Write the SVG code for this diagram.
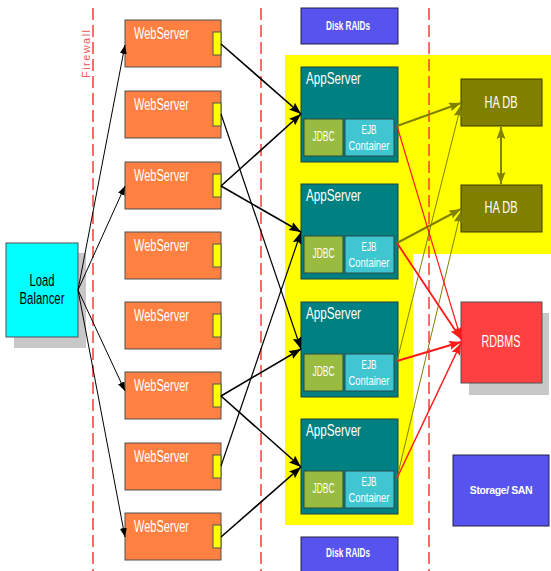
<svg xmlns="http://www.w3.org/2000/svg" width="551" height="571" viewBox="0 0 551 571">
<style>
.t{font-family:"Liberation Sans Narrow","Liberation Sans",Arial,sans-serif;fill:#fff}
.c{text-anchor:middle}
.ws{fill:#FF8040;stroke:#505050;stroke-width:1}
.port{fill:#FFFF00;stroke:#505050;stroke-width:1}
.as{fill:#008080;stroke:#1f4040;stroke-width:1}
.jdbc{fill:#99BB40;stroke:#2a4a40;stroke-width:1}
.ejb{fill:#40C6D0;stroke:#2a4a50;stroke-width:1}
.db{fill:#808000;stroke:#3a3a00;stroke-width:1}
.blue{fill:#5653EE;stroke:#222244;stroke-width:1}
.fw{stroke:#FF3B3B;stroke-width:1.5;stroke-dasharray:12,5;fill:none}
.lb{stroke:#000;stroke-width:1;fill:none;marker-end:url(#aS)}
.wa{stroke:#000;stroke-width:1.6;fill:none;marker-end:url(#aB)}
.ol{stroke:#808000;fill:none;marker-end:url(#aO)}
.rd{stroke:#FF1A1A;fill:none;marker-end:url(#aR)}
</style>
<defs>
<marker id="aS" markerUnits="userSpaceOnUse" markerWidth="10" markerHeight="8" refX="9" refY="3.5" orient="auto"><path d="M0,0 L9,3.5 L0,7 Z" fill="#000"/></marker>
<marker id="aB" markerUnits="userSpaceOnUse" markerWidth="13" markerHeight="10" refX="12" refY="4.5" orient="auto"><path d="M0,0 L12,4.5 L0,9 L2,4.5 Z" fill="#000"/></marker>
<marker id="aO" markerUnits="userSpaceOnUse" markerWidth="13" markerHeight="10" refX="12" refY="4.5" orient="auto"><path d="M0,0 L12,4.5 L0,9 L2,4.5 Z" fill="#808000"/></marker>
<marker id="aOs" markerUnits="userSpaceOnUse" markerWidth="13" markerHeight="10" refX="0" refY="4.5" orient="auto"><path d="M12,0 L0,4.5 L12,9 L10,4.5 Z" fill="#808000"/></marker>
<marker id="aR" markerUnits="userSpaceOnUse" markerWidth="13" markerHeight="10" refX="12" refY="4.5" orient="auto"><path d="M0,0 L12,4.5 L0,9 L2,4.5 Z" fill="#FF1A1A"/></marker>
</defs>
<rect width="551" height="571" fill="#fff"/>
<polygon points="285,55 551,55 551,254 413,254 413,525 285,525" fill="#FFFF00"/>
<g id="firewalls">
<line class="fw" x1="93" y1="8" x2="93" y2="571"/>
<line class="fw" x1="261" y1="8" x2="261" y2="571"/>
<line class="fw" x1="429" y1="8" x2="429" y2="571"/>
<text transform="translate(90,78) rotate(-90)" font-family="Liberation Sans,Arial,sans-serif" font-size="11" fill="#F05A5A" textLength="48" lengthAdjust="spacing">Firewall</text>
</g>
<g id="loadbalancer">
<rect x="14" y="253" width="72" height="95" fill="#C8C8C8"/>
<rect x="6" y="243" width="72" height="94" fill="#00FFFF" stroke="#505050"/>
<text class="t c" x="42" y="286" font-size="16" style="fill:#000" textLength="25" lengthAdjust="spacingAndGlyphs">Load</text>
<text class="t c" x="42" y="304" font-size="16" style="fill:#000" textLength="45" lengthAdjust="spacingAndGlyphs">Balancer</text>
</g>
<g id="ws1"><rect class="ws" x="125" y="20" width="96" height="47"/><rect class="port" x="213" y="32" width="8" height="23"/><text class="t" x="134" y="39" font-size="16" textLength="55" lengthAdjust="spacingAndGlyphs">WebServer</text></g>
<g id="ws2"><rect class="ws" x="125" y="91" width="96" height="47"/><rect class="port" x="213" y="103" width="8" height="23"/><text class="t" x="134" y="110" font-size="16" textLength="55" lengthAdjust="spacingAndGlyphs">WebServer</text></g>
<g id="ws3"><rect class="ws" x="125" y="162" width="96" height="47"/><rect class="port" x="213" y="174" width="8" height="23"/><text class="t" x="134" y="181" font-size="16" textLength="55" lengthAdjust="spacingAndGlyphs">WebServer</text></g>
<g id="ws4"><rect class="ws" x="125" y="232" width="96" height="47"/><rect class="port" x="213" y="244" width="8" height="23"/><text class="t" x="134" y="251" font-size="16" textLength="55" lengthAdjust="spacingAndGlyphs">WebServer</text></g>
<g id="ws5"><rect class="ws" x="125" y="302" width="96" height="47"/><rect class="port" x="213" y="314" width="8" height="23"/><text class="t" x="134" y="321" font-size="16" textLength="55" lengthAdjust="spacingAndGlyphs">WebServer</text></g>
<g id="ws6"><rect class="ws" x="125" y="372" width="96" height="47"/><rect class="port" x="213" y="384" width="8" height="23"/><text class="t" x="134" y="391" font-size="16" textLength="55" lengthAdjust="spacingAndGlyphs">WebServer</text></g>
<g id="ws7"><rect class="ws" x="125" y="443" width="96" height="47"/><rect class="port" x="213" y="455" width="8" height="23"/><text class="t" x="134" y="462" font-size="16" textLength="55" lengthAdjust="spacingAndGlyphs">WebServer</text></g>
<g id="ws8"><rect class="ws" x="125" y="513" width="96" height="47"/><rect class="port" x="213" y="525" width="8" height="23"/><text class="t" x="134" y="532" font-size="16" textLength="55" lengthAdjust="spacingAndGlyphs">WebServer</text></g>
<g id="raid1"><rect class="blue" x="301" y="8" width="97" height="36"/><text class="t c" x="348" y="30" font-size="13" font-weight="bold" textLength="44" lengthAdjust="spacingAndGlyphs">Disk RAIDs</text></g>
<g id="raid2"><rect class="blue" x="301" y="537" width="97" height="40"/><text class="t c" x="348" y="557" font-size="13" font-weight="bold" textLength="44" lengthAdjust="spacingAndGlyphs">Disk RAIDs</text></g>
<g id="as1"><rect class="as" x="301" y="67" width="97" height="95"/><text class="t" x="306" y="84" font-size="16" textLength="55" lengthAdjust="spacingAndGlyphs">AppServer</text><rect class="jdbc" x="304" y="119" width="39" height="37"/><text class="t c" x="323.5" y="141" font-size="14" textLength="22" lengthAdjust="spacingAndGlyphs">JDBC</text><rect class="ejb" x="345" y="119" width="49" height="37"/><text class="t c" x="369" y="134" font-size="13" textLength="15" lengthAdjust="spacingAndGlyphs">EJB</text><text class="t c" x="369" y="150" font-size="13" textLength="41" lengthAdjust="spacingAndGlyphs">Container</text></g>
<g id="as2"><rect class="as" x="301" y="184" width="97" height="95"/><text class="t" x="306" y="201" font-size="16" textLength="55" lengthAdjust="spacingAndGlyphs">AppServer</text><rect class="jdbc" x="304" y="236" width="39" height="37"/><text class="t c" x="323.5" y="258" font-size="14" textLength="22" lengthAdjust="spacingAndGlyphs">JDBC</text><rect class="ejb" x="345" y="236" width="49" height="37"/><text class="t c" x="369" y="251" font-size="13" textLength="15" lengthAdjust="spacingAndGlyphs">EJB</text><text class="t c" x="369" y="267" font-size="13" textLength="41" lengthAdjust="spacingAndGlyphs">Container</text></g>
<g id="as3"><rect class="as" x="301" y="302" width="97" height="95"/><text class="t" x="306" y="319" font-size="16" textLength="55" lengthAdjust="spacingAndGlyphs">AppServer</text><rect class="jdbc" x="304" y="354" width="39" height="37"/><text class="t c" x="323.5" y="376" font-size="14" textLength="22" lengthAdjust="spacingAndGlyphs">JDBC</text><rect class="ejb" x="345" y="354" width="49" height="37"/><text class="t c" x="369" y="369" font-size="13" textLength="15" lengthAdjust="spacingAndGlyphs">EJB</text><text class="t c" x="369" y="385" font-size="13" textLength="41" lengthAdjust="spacingAndGlyphs">Container</text></g>
<g id="as4"><rect class="as" x="301" y="419" width="97" height="95"/><text class="t" x="306" y="436" font-size="16" textLength="55" lengthAdjust="spacingAndGlyphs">AppServer</text><rect class="jdbc" x="304" y="471" width="39" height="37"/><text class="t c" x="323.5" y="493" font-size="14" textLength="22" lengthAdjust="spacingAndGlyphs">JDBC</text><rect class="ejb" x="345" y="471" width="49" height="37"/><text class="t c" x="369" y="486" font-size="13" textLength="15" lengthAdjust="spacingAndGlyphs">EJB</text><text class="t c" x="369" y="502" font-size="13" textLength="41" lengthAdjust="spacingAndGlyphs">Container</text></g>
<g id="hadb1"><rect class="db" x="461" y="79" width="81" height="47"/><text class="t c" x="501" y="108" font-size="17" textLength="33" lengthAdjust="spacingAndGlyphs">HA DB</text></g>
<g id="hadb2"><rect class="db" x="461" y="185" width="81" height="47"/><text class="t c" x="501" y="213" font-size="17" textLength="33" lengthAdjust="spacingAndGlyphs">HA DB</text></g>
<g id="rdbms"><rect x="469" y="313" width="80" height="82" fill="#C8C8C8"/><rect x="461" y="302" width="81" height="81" fill="#FF4040" stroke="#505050"/><text class="t c" x="501" y="347" font-size="16" textLength="39" lengthAdjust="spacingAndGlyphs">RDBMS</text></g>
<g id="storage"><rect class="blue" x="453" y="455" width="96" height="71"/><text class="t c" x="501" y="494" font-size="10.5" font-weight="bold" letter-spacing="-0.4">Storage/ SAN</text></g>
<g id="connectors">
<line class="lb" x1="78" y1="290" x2="125" y2="45"/>
<line class="lb" x1="78" y1="290" x2="125" y2="186"/>
<line class="lb" x1="78" y1="290" x2="125" y2="391"/>
<line class="lb" x1="78" y1="290" x2="125" y2="537"/>
<line class="wa" x1="221" y1="44" x2="301" y2="114"/>
<line class="wa" x1="221" y1="186" x2="301" y2="114"/>
<line class="wa" x1="221" y1="186" x2="301" y2="232"/>
<line class="wa" x1="221" y1="466" x2="301" y2="232" style="stroke-width:1.2"/>
<line class="wa" x1="221" y1="114" x2="301" y2="349" style="stroke-width:1.2"/>
<line class="wa" x1="221" y1="396" x2="301" y2="349"/>
<line class="wa" x1="221" y1="396" x2="301" y2="467"/>
<line class="wa" x1="221" y1="537" x2="301" y2="467"/>
<line class="ol" x1="397" y1="126" x2="461" y2="103" style="stroke-width:2"/>
<line class="ol" x1="397" y1="361" x2="461" y2="105" style="stroke-width:1"/>
<line class="ol" x1="397" y1="243" x2="461" y2="209" style="stroke-width:2"/>
<line class="ol" x1="397" y1="478" x2="461" y2="211" style="stroke-width:1"/>
<line class="rd" x1="397" y1="126" x2="461" y2="339" style="stroke-width:1.2"/>
<line class="rd" x1="397" y1="243" x2="461" y2="339" style="stroke-width:1.8"/>
<line class="rd" x1="397" y1="361" x2="461" y2="342" style="stroke-width:2"/>
<line class="rd" x1="397" y1="478" x2="461" y2="343" style="stroke-width:1.5"/>
<line x1="501" y1="127" x2="501" y2="184" stroke="#808000" stroke-width="2" marker-start="url(#aOs)" marker-end="url(#aO)"/>
</g>
</svg>
